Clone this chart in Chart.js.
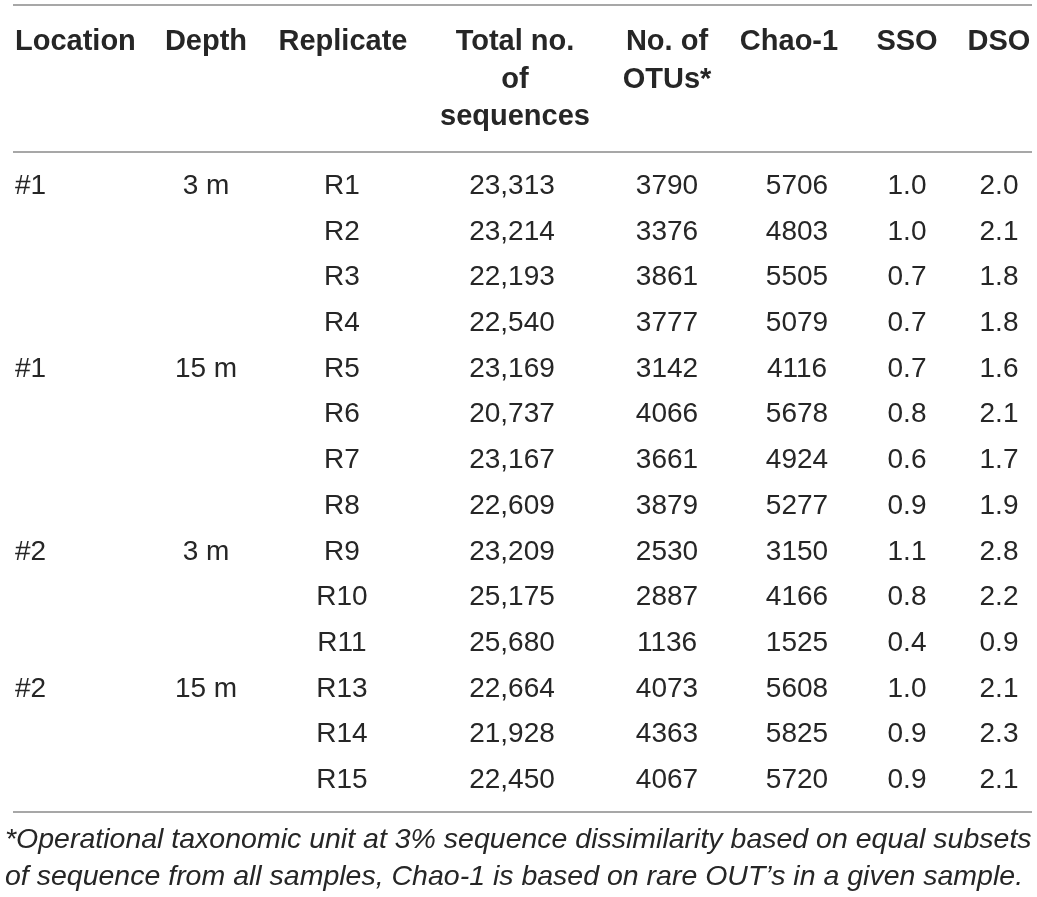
<!DOCTYPE html>
<html>
<head>
<meta charset="utf-8">
<script src="https://cdn.jsdelivr.net/npm/chart.js@4/dist/chart.umd.min.js"></script>
<style>
  html, body { margin: 0; padding: 0; background: #fff; }
  #wrap { width: 1037px; height: 897px; }
</style>
</head>
<body>
<div id="wrap"><canvas id="tableChart" width="1037" height="897"></canvas></div>
<script>
// Table values, one array per column
const replicates = ['R1', 'R2', 'R3', 'R4', 'R5', 'R6', 'R7', 'R8', 'R9', 'R10', 'R11', 'R13', 'R14', 'R15'];
const locations = ['#1', '', '', '', '#1', '', '', '', '#2', '', '', '#2', '', ''];
const depths = ['3 m', '', '', '', '15 m', '', '', '', '3 m', '', '', '15 m', '', ''];
const totalSeqs = [23313, 23214, 22193, 22540, 23169, 20737, 23167, 22609, 23209, 25175, 25680, 22664, 21928, 22450];
const otus = [3790, 3376, 3861, 3777, 3142, 4066, 3661, 3879, 2530, 2887, 1136, 4073, 4363, 4067];
const chao1 = [5706, 4803, 5505, 5079, 4116, 5678, 4924, 5277, 3150, 4166, 1525, 5608, 5825, 5720];
const sso = [1.0, 1.0, 0.7, 0.7, 0.7, 0.8, 0.6, 0.9, 1.1, 0.8, 0.4, 1.0, 0.9, 0.9];
const dso = [2.0, 2.1, 1.8, 1.8, 1.6, 2.1, 1.7, 1.9, 2.8, 2.2, 0.9, 2.1, 2.3, 2.1];

const headers = [
    ['Location'], ['Depth'], ['Replicate'], ['Total no.', 'of', 'sequences'],
    ['No. of', 'OTUs*'], ['Chao-1'], ['SSO'], ['DSO']
];
const footnote = [
    '*Operational taxonomic unit at 3% sequence dissimilarity based on equal subsets',
    'of sequence from all samples, Chao-1 is based on rare OUT\u2019s in a given sample.'
];

// Layout (positions on the x scale, not data)
const colX = [15, 206, 342, 512, 667, 797, 907, 999];
const colAlign = ['left', 'center', 'center', 'center', 'center', 'center', 'center', 'center'];
const headerShift = [0, 0, 1, 3, 0, -8, 0, 0];

const TEXT = '#262626';
const RULE = '#8a8a8a';
const FONT = '"Liberation Sans", Arial, sans-serif';

const columns = [
    locations,
    depths,
    replicates,
    totalSeqs.map(v => v.toLocaleString('en-US')),
    otus.map(String),
    chao1.map(String),
    sso.map(v => v.toFixed(1)),
    dso.map(v => v.toFixed(1))
];

// One invisible dataset per column; the plugin writes the cell text at each point
const datasets = columns.map((col, c) => ({
    label: headers[c].join(' '),
    data: replicates.map((r, i) => ({ x: colX[c], y: r, text: col[i] })),
    pointRadius: 0,
    pointHoverRadius: 0
}));

const tablePlugin = {
    id: 'tablePlugin',
    afterDatasetsDraw(chart) {
        const ctx = chart.ctx;
        const xs = chart.scales.x;
        const area = chart.chartArea;
        ctx.save();

        // rules
        ctx.strokeStyle = RULE;
        ctx.lineWidth = 1.5;
        const left = xs.getPixelForValue(13);
        const right = xs.getPixelForValue(1032);
        [area.top - 189, area.top - 42, area.bottom + 24].forEach(y => {
            ctx.beginPath();
            ctx.moveTo(left, y);
            ctx.lineTo(right, y);
            ctx.stroke();
        });

        // headers
        ctx.fillStyle = TEXT;
        ctx.textBaseline = 'alphabetic';
        ctx.font = 'bold 29px ' + FONT;
        headers.forEach((lines, c) => {
            ctx.textAlign = colAlign[c];
            const x = xs.getPixelForValue(colX[c] + headerShift[c]);
            lines.forEach((txt, j) => {
                ctx.fillText(txt, x, area.top - 144 + j * 37.5);
            });
        });

        // body cells
        ctx.font = '28px ' + FONT;
        chart.data.datasets.forEach((ds, c) => {
            const meta = chart.getDatasetMeta(c);
            ctx.textAlign = colAlign[c];
            meta.data.forEach((pt, i) => {
                const txt = ds.data[i].text;
                if (txt) ctx.fillText(txt, pt.x, pt.y);
            });
        });

        // footnote
        ctx.font = 'italic 28.5px ' + FONT;
        ctx.textAlign = 'left';
        footnote.forEach((txt, j) => {
            ctx.fillText(txt, xs.getPixelForValue(5), area.bottom + 60 + j * 37);
        });
        ctx.restore();
    }
};

new Chart(document.getElementById('tableChart'), {
    type: 'scatter',
    data: { datasets: datasets },
    options: {
        responsive: false,
        animation: false,
        layout: { padding: { top: 194, bottom: 109, left: 0, right: 0 } },
        scales: {
            x: { type: 'linear', min: 0, max: 1037, display: false },
            y: { type: 'category', labels: replicates, display: false, offset: false }
        },
        plugins: {
            legend: { display: false },
            tooltip: { enabled: false }
        }
    },
    plugins: [tablePlugin]
});
</script>
</body>
</html>
